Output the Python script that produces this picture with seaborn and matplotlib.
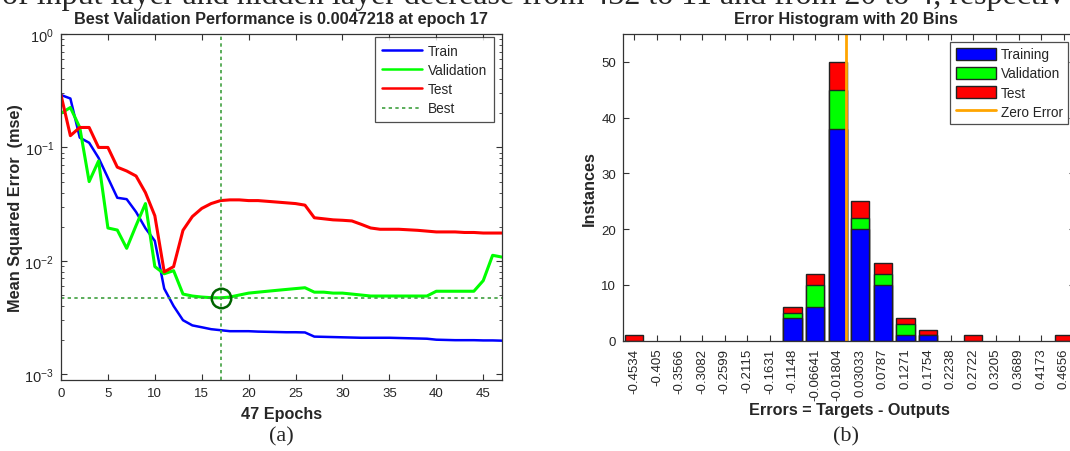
import matplotlib
matplotlib.use("Agg")
import matplotlib.pyplot as plt
import numpy as np
import pandas as pd
import seaborn as sns
from matplotlib.patches import Patch
from matplotlib.lines import Line2D
from matplotlib.ticker import LogLocator, NullFormatter

# ---------------- data: performance plot ----------------
epochs = list(range(48))
train_mse = [0.29, 0.27, 0.122, 0.11, 0.081, 0.054, 0.036, 0.035, 0.027, 0.0194,
             0.015, 0.0057, 0.0040, 0.0030, 0.0027, 0.0026, 0.0025, 0.00245, 0.0024, 0.0024,
             0.0024, 0.00238, 0.00237, 0.00236, 0.00235, 0.00235, 0.00234, 0.00215, 0.00214, 0.00213,
             0.00212, 0.00211, 0.0021, 0.0021, 0.0021, 0.0021, 0.00209, 0.00208, 0.00207, 0.00206,
             0.00202, 0.00201, 0.0020, 0.0020, 0.0020, 0.00199, 0.00199, 0.00198]
val_mse = [0.20, 0.225, 0.15, 0.05, 0.076, 0.0195, 0.0187, 0.0129, 0.0205, 0.032,
           0.0089, 0.0077, 0.0082, 0.0051, 0.0049, 0.0048, 0.00474, 0.0047218, 0.0048, 0.0050,
           0.0052, 0.0053, 0.0054, 0.0055, 0.0056, 0.0057, 0.0058, 0.0053, 0.0053, 0.0052,
           0.0052, 0.0051, 0.0050, 0.0049, 0.0049, 0.0049, 0.0049, 0.0049, 0.0049, 0.0049,
           0.0054, 0.0054, 0.0054, 0.0054, 0.0054, 0.0067, 0.0112, 0.0108]
test_mse = [0.29, 0.127, 0.15, 0.15, 0.10, 0.10, 0.067, 0.062, 0.056, 0.040,
            0.025, 0.0080, 0.0089, 0.0186, 0.0246, 0.029, 0.032, 0.034, 0.0345, 0.0345,
            0.034, 0.034, 0.0335, 0.033, 0.0325, 0.032, 0.031, 0.024, 0.0235, 0.023,
            0.0228, 0.0225, 0.021, 0.0195, 0.019, 0.019, 0.019, 0.0188, 0.0186, 0.0183,
            0.018, 0.018, 0.018, 0.0178, 0.0178, 0.0176, 0.0176, 0.0176]
best_epoch = 17
best_perf = 0.0047218

# ---------------- data: error histogram ----------------
bin_labels = ["-0.4534", "-0.405", "-0.3566", "-0.3082", "-0.2599", "-0.2115", "-0.1631",
              "-0.1148", "-0.06641", "-0.01804", "0.03033", "0.0787", "0.1271", "0.1754",
              "0.2238", "0.2722", "0.3205", "0.3689", "0.4173", "0.4656"]
train_counts = [0, 0, 0, 0, 0, 0, 0, 4, 6, 38, 20, 10, 1, 1, 0, 0, 0, 0, 0, 0]
val_counts = [0, 0, 0, 0, 0, 0, 0, 1, 4, 7, 2, 2, 2, 0, 0, 0, 0, 0, 0, 0]
test_counts = [1, 0, 0, 0, 0, 0, 0, 1, 2, 5, 3, 2, 1, 1, 0, 1, 0, 0, 0, 1]
bin_width = 0.04837
zero_error = 0.0

sns.set_theme(style="ticks")
plt.rcParams['font.family'] = ['Liberation Sans', 'DejaVu Sans']
plt.rcParams['mathtext.fontset'] = 'custom'
plt.rcParams['mathtext.rm'] = 'Liberation Sans'
plt.rcParams['mathtext.it'] = 'Liberation Sans:italic'
plt.rcParams['mathtext.bf'] = 'Liberation Sans:bold'

W, H = 1070, 452
fig = plt.figure(figsize=(W / 100, H / 100), dpi=100)

def px_axes(x0, y0, x1, y1):
    return fig.add_axes([x0 / W, 1 - y1 / H, (x1 - x0) / W, (y1 - y0) / H])

edge = "#333333"
tick_fs = 9.5
lab_fs = 11.7
title_fs = 11.7

# ================= left: performance =================
ax1 = px_axes(61, 35, 502, 381)
df = pd.DataFrame({"epoch": epochs, "Train": train_mse, "Validation": val_mse, "Test": test_mse})
sns.lineplot(data=df, x="epoch", y="Train", color="#0000ff", lw=1.8, ax=ax1)
sns.lineplot(data=df, x="epoch", y="Validation", color="#00ff00", lw=2.2, ax=ax1)
sns.lineplot(data=df, x="epoch", y="Test", color="#ff0000", lw=2.2, ax=ax1)
best_col = "#3f9f3f"
ax1.axvline(best_epoch, color=best_col, ls=(0, (2, 2)), lw=1.2)
ax1.axhline(best_perf, color=best_col, ls=(0, (2, 2)), lw=1.2)
ax1.plot([best_epoch], [best_perf], marker="o", ms=14, mfc="none", mec="#006400", mew=1.8)
ax1.set_yscale("log")
ax1.set_ylim(10 ** -3.05, 1.0)
ax1.set_xlim(0, 47)
ax1.set_xticks(range(0, 46, 5))
ax1.yaxis.set_major_locator(LogLocator(base=10, numticks=10))
ax1.yaxis.set_minor_locator(LogLocator(base=10, subs=np.arange(2, 10), numticks=20))
ax1.yaxis.set_minor_formatter(NullFormatter())
ax1.tick_params(direction="in", top=True, right=True, labelsize=tick_fs, length=4, width=0.8,
                color=edge, pad=5)
ax1.tick_params(axis="y", labelsize=10.5)
ax1.tick_params(which="minor", direction="in", right=True, length=2.5, width=0.6, color=edge)
for s in ax1.spines.values():
    s.set_color(edge)
    s.set_linewidth(0.9)
ax1.set_title("Best Validation Performance is 0.0047218 at epoch 17", fontsize=title_fs,
              fontweight="bold", pad=8)
ax1.set_xlabel("47 Epochs", fontsize=lab_fs, fontweight="bold", labelpad=5)
ax1.set_ylabel("Mean Squared Error  (mse)", fontsize=lab_fs, fontweight="bold", labelpad=1)
h1 = [Line2D([], [], color="#0000ff", lw=1.8), Line2D([], [], color="#00ff00", lw=1.8),
      Line2D([], [], color="#ff0000", lw=1.8), Line2D([], [], color=best_col, lw=1.2, ls=(0, (2, 2)))]
leg1 = ax1.legend(h1, ["Train", "Validation", "Test", "Best"], loc="upper right",
                  bbox_to_anchor=(494 / W, 1 - 38 / H), bbox_transform=fig.transFigure,
                  fontsize=9.8, frameon=True, fancybox=False, edgecolor="#222222",
                  borderaxespad=0, handlelength=3.0, labelspacing=0.38, borderpad=0.5,
                  handletextpad=0.4)
leg1.get_frame().set_linewidth(0.9)

# ================= right: error histogram =================
ax2 = px_axes(623, 35, 1075, 341.7)
total = [t + v + s for t, v, s in zip(train_counts, val_counts, test_counts)]
tv = [t + v for t, v in zip(train_counts, val_counts)]
hist = pd.DataFrame({"bin": bin_labels, "total": total, "tv": tv, "train": train_counts})
for col, c in [("total", "#ff0000"), ("tv", "#00ff00"), ("train", "#0000ff")]:
    sns.barplot(data=hist, x="bin", y=col, order=bin_labels, color=c, saturation=1,
                edgecolor="#222222", linewidth=1.0, errorbar=None, width=0.8, ax=ax2)
for p in ax2.patches:
    if p.get_height() == 0:
        p.set_visible(False)
# zero error line in category units
zero_pos = 9 + (zero_error - float(bin_labels[9])) / bin_width
ax2.axvline(zero_pos, color="#ffa500", lw=2)
ax2.set_xlim(-0.5, 19.5)
ax2.set_ylim(0, 55)
ax2.set_yticks(range(0, 51, 10))
ax2.set_xticks(range(len(bin_labels)))
ax2.set_xticklabels(bin_labels, rotation=90, fontsize=tick_fs)
ax2.tick_params(direction="in", top=True, right=True, labelsize=tick_fs, length=4, width=0.8,
                color=edge, pad=5)
for s in ax2.spines.values():
    s.set_color(edge)
    s.set_linewidth(0.9)
ax2.set_title("Error Histogram with 20 Bins", fontsize=title_fs, fontweight="bold", pad=8,
              x=(846 - 623) / 452)
ax2.set_xlabel("Errors = Targets - Outputs", fontsize=lab_fs, fontweight="bold", labelpad=1)
ax2.set_ylabel("Instances", fontsize=lab_fs, fontweight="bold", labelpad=3)
h2 = [Patch(facecolor="#0000ff", edgecolor="#222222"), Patch(facecolor="#00ff00", edgecolor="#222222"),
      Patch(facecolor="#ff0000", edgecolor="#222222"), Line2D([], [], color="#ffa500", lw=2)]
leg2 = ax2.legend(h2, ["Training", "Validation", "Test", "Zero Error"], loc="upper right",
                  bbox_to_anchor=(1068 / W, 1 - 43 / H), bbox_transform=fig.transFigure,
                  fontsize=9.8, frameon=True, fancybox=False, edgecolor="#222222",
                  borderaxespad=0, handlelength=3.0, handleheight=0.95, labelspacing=0.37,
                  borderpad=0.4, handletextpad=0.3)
leg2.get_frame().set_linewidth(0.9)

# ---------------- page text (fragment of the surrounding page, cut at the top as in the source) ----------------
fig.text(2 / W, 1 - 4 / H, "of input layer and hidden layer decrease from 432 to 11 and from 20 to 4, respectiv",
         ha="left", va="baseline", fontsize=23, family="Liberation Serif")
fig.text(281 / W, 1 - 437 / H, "(a)", ha="center", va="center", fontsize=16, family="Liberation Serif")
fig.text(846 / W, 1 - 437 / H, "(b)", ha="center", va="center", fontsize=16, family="Liberation Serif")

fig.savefig("out.png", dpi=100)
